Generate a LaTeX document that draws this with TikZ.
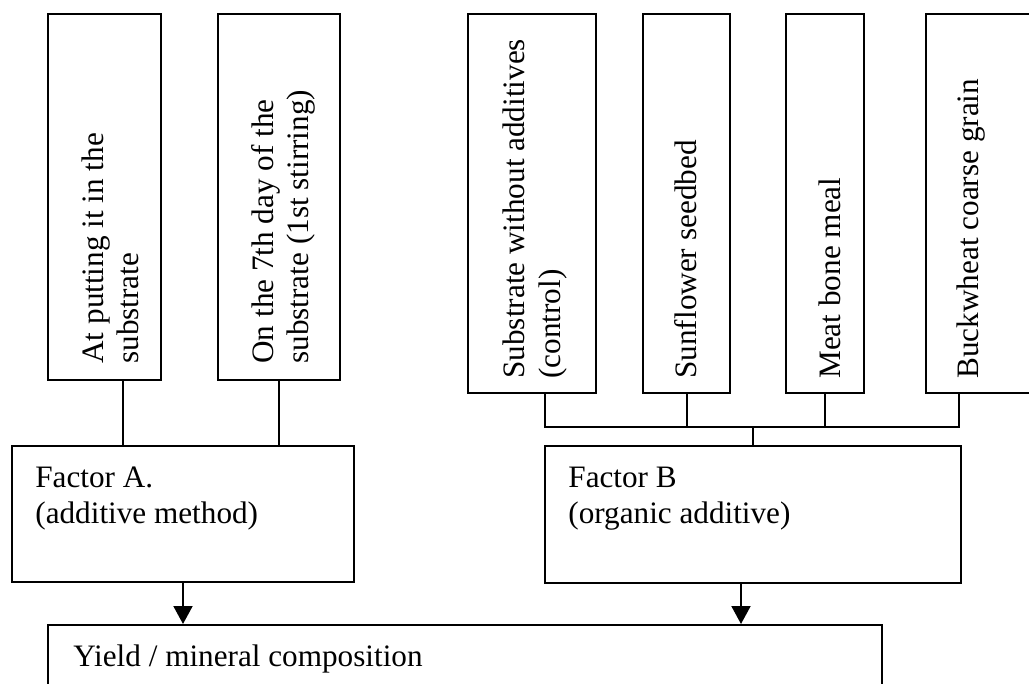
\documentclass[tikz,border=0pt]{standalone}
\usepackage{fontspec}
\setmainfont{Liberation Serif}
\usetikzlibrary{arrows.meta,calc}
\tikzset{>={Triangle[length=9pt,width=9.5pt]},box/.style={draw,line width=1pt,
 inner sep=0pt},vlab/.style={rotate=90,anchor=north west,inner sep=0pt,align=left},
 hlab/.style={anchor=north west,inner sep=0pt,align=left},link/.style={line width=1pt}}

\begin{document}
\begin{tikzpicture}[x=.5pt,y=-.5pt,every node/.style={font=\fontsize{15.6pt}{17.8pt}\selectfont}]
\useasboundingbox (0,0) rectangle (1029,684);
\clip (0,0) rectangle (1029,684);
% variants of factor A
\node[box,minimum width=56.5pt,minimum height=183pt] (put) at (104.5,197) {};
\node[box,minimum width=61pt,minimum height=183pt] (sev) at (279,197) {};
\node[vlab] (putT) at ($(put.south west)+(34,-17)$) {At putting it in the\\substrate};
\node[vlab] (sevT) at ($(sev.south west)+(34,-17)$) {On the 7th day of the\\substrate (1st stirring)};
% variants of factor B
\node[box,minimum width=64pt,minimum height=189.5pt] (ctrl) at (532,203.5) {};
\node[box,minimum width=43.5pt,minimum height=189.5pt] (sunf) at (686.5,203.5) {};
\node[box,minimum width=39pt,minimum height=189.5pt] (meat) at (825,203.5) {};
\node[box,minimum width=75pt,minimum height=189.5pt] (buck) at (1000.5,203.5) {};
\node[vlab] (ctrlT) at ($(ctrl.south west)+(35.5,-15)$) {Substrate without additives\\(control)};
\node[vlab] (sunfT) at ($(sunf.south west)+(32,-15)$) {Sunflower seedbed};
\node[vlab] (meatT) at ($(meat.south west)+(33,-15)$) {Meat bone meal};
\node[vlab] (buckT) at ($(buck.south west)+(32,-15)$) {Buckwheat coarse grain};
% factors and result
\node[box,minimum width=171pt,minimum height=68pt] (facA) at (183,514) {};
\node[box,minimum width=207.75pt,minimum height=68.5pt] (facB) at (752.75,514.5) {};
\node[box,minimum width=417pt,minimum height=60pt] (yld) at (465,685) {};
\node[hlab] (facAT) at ($(facA.north west)+(24,22)$) {Factor A.\\(additive method)};
\node[hlab] (facBT) at ($(facB.north west)+(24,22)$) {Factor B\\(organic additive)};
\node[hlab] (yldT) at ($(yld.north west)+(26,20)$) {Yield / mineral composition};
% connectors
\coordinate (pA) at ($(put.south)+(18,0)$);
\draw[link] (pA) -- (pA |- facA.north);
\draw[link] (sev.south) -- (sev.south |- facA.north);
\coordinate (bus) at (0,427.5);
\coordinate (pC) at ($(ctrl.south)+(13,0)$);
\coordinate (pK) at ($(buck.south west)+(34.5,0)$);
\draw[link] (pC) -- (pC |- bus) -- (pK |- bus) -- (pK);
\draw[link] (sunf.south) -- (sunf.south |- bus);
\draw[link] (meat.south) -- (meat.south |- bus);
\draw[link] (facB.north |- bus) -- (facB.north);
\coordinate (pB) at ($(facB.south)+(-11.75,0)$);
\draw[link,->] (facA.south) -- (facA.south |- yld.north);
\draw[link,->] (pB) -- (pB |- yld.north);
\end{tikzpicture}
\end{document}
